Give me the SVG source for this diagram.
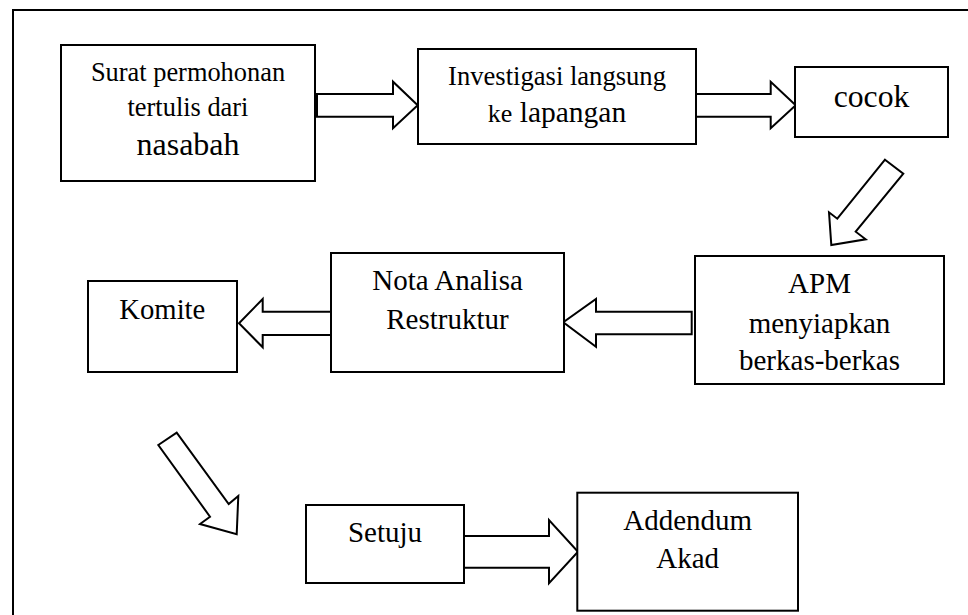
<svg xmlns="http://www.w3.org/2000/svg" width="968" height="615" viewBox="0 0 968 615">
<style>
.box{fill:#fff;stroke:#000;stroke-width:2}
.arr{fill:#fff;stroke:#000;stroke-width:2;stroke-linejoin:miter}
.t{font-family:'Liberation Serif',serif;fill:#000;text-anchor:middle}
</style>
<rect x="0" y="0" width="968" height="615" fill="#fff"/>
<rect x="13" y="10" width="975" height="625" fill="none" stroke="#000" stroke-width="2"/>
<g id="connectors">
<polygon class="arr" points="317,94 393,94 393,81.7 417.7,105.3 393,128.3 393,116.7 317,116.7"/>
<polygon class="arr" points="696,94 770.7,94 770.7,81.7 795.7,105.3 770.7,128.3 770.7,116.7 696,116.7"/>
<polygon class="arr" points="885,159.7 903.3,173.7 855.7,231.7 865.7,239.3 831.3,245 829,212.3 837.3,218.7"/>
<polygon class="arr" points="691.7,311.7 596,311.7 596,299 563.3,322.3 596,346.7 596,334.3 691.7,334.3"/>
<polygon class="arr" points="331.3,311.7 262.7,311.7 262.7,299 239,323.3 262.7,347.3 262.7,335 331.3,335"/>
<polygon class="arr" points="158.3,445 176.7,432.7 228.7,504 238.3,496 236.7,534.3 200,524 210,516.7"/>
<polygon class="arr" points="464,536 549,536 549,520 578,551.7 549,583.3 549,567.7 464,567.7"/>
</g>
<g font-family="Liberation Serif, serif">
<g id="n1">
<rect class="box" x="61" y="45" width="254" height="136"/>
<text class="t" x="188" y="81" font-size="26.4">Surat permohonan</text>
<text class="t" x="188" y="115.7" font-size="26.4">tertulis dari</text>
<text class="t" x="188" y="155.3" font-size="32">nasabah</text>
</g>
<g id="n2">
<rect class="box" x="418" y="49" width="278" height="95"/>
<text class="t" x="557" y="85" font-size="26.6">Investigasi langsung</text>
<text class="t" x="557" y="121.7" font-size="29.5"><tspan font-size="26">ke</tspan> lapangan</text>
</g>
<g id="n3">
<rect class="box" x="795" y="67" width="153" height="70"/>
<text class="t" x="871.5" y="107.3" font-size="31.7">cocok</text>
</g>
<g id="n4">
<rect class="box" x="695" y="256" width="249" height="128"/>
<text class="t" x="819.5" y="293.3" font-size="29">APM</text>
<text class="t" x="819.5" y="332.7" font-size="29">menyiapkan</text>
<text class="t" x="819.5" y="370" font-size="29">berkas-berkas</text>
</g>
<g id="n5">
<rect class="box" x="331" y="253" width="233" height="119"/>
<text class="t" x="447.5" y="290" font-size="29">Nota Analisa</text>
<text class="t" x="447.5" y="329" font-size="29">Restruktur</text>
</g>
<g id="n6">
<rect class="box" x="88" y="281" width="149" height="91"/>
<text class="t" x="162.3" y="319" font-size="28.7">Komite</text>
</g>
<g id="n7">
<rect class="box" x="306" y="505" width="158" height="78"/>
<text class="t" x="385" y="542.3" font-size="29">Setuju</text>
</g>
<g id="n8">
<rect class="box" x="577.3" y="492.7" width="220.7" height="118"/>
<text class="t" x="687.7" y="530" font-size="29">Addendum</text>
<text class="t" x="687.7" y="568.3" font-size="29">Akad</text>
</g>
</g>
</svg>
